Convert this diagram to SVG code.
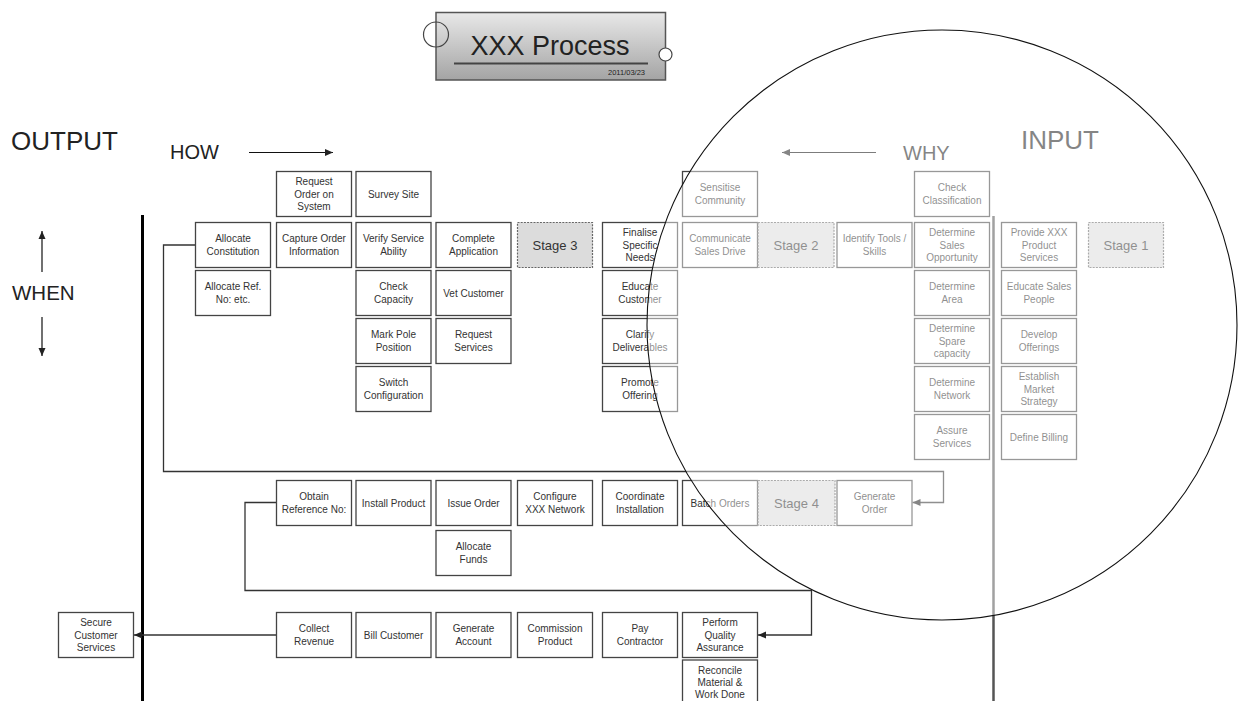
<svg xmlns="http://www.w3.org/2000/svg" width="1238" height="701" viewBox="0 0 1238 701">
<style>
.b{fill:#fff;stroke:#444;stroke-width:1.3}
.s{fill:#dcdcdc;stroke:#666;stroke-width:1.2;stroke-dasharray:2 1.2}
.t{font-family:"Liberation Sans",Arial,sans-serif;font-size:10px;fill:#333;text-anchor:middle}
.st{font-family:"Liberation Sans",Arial,sans-serif;font-size:13px;fill:#333;text-anchor:middle}
.lbl{font-family:"Liberation Sans",Arial,sans-serif;fill:#222}
.c{fill:none;stroke:#333;stroke-width:1.3}
.ax{fill:none;stroke:#111;stroke-width:1.2}
</style>
<defs>
<linearGradient id="tg" x1="0" y1="0" x2="0" y2="1">
<stop offset="0" stop-color="#e8e8e8"/>
<stop offset="1" stop-color="#a4a4a4"/>
</linearGradient>
<marker id="ah" markerUnits="userSpaceOnUse" markerWidth="8" markerHeight="8" refX="8" refY="4" orient="auto">
<path d="M0,0.5 L8,4 L0,7.5 z" fill="#222"/>
</marker>
</defs>

<g id="title">
<rect x="436" y="12.5" width="229.5" height="67.5" fill="url(#tg)" stroke="#555" stroke-width="1.5"/>
<circle cx="436" cy="34.5" r="12.5" fill="none" stroke="#444" stroke-width="1.2"/>
<circle cx="665.5" cy="54.5" r="6.5" fill="#fff" stroke="#444" stroke-width="1.2"/>
<text x="550" y="55" class="lbl" font-size="27" text-anchor="middle">XXX Process</text>
<line x1="454" y1="63.5" x2="648" y2="63.5" stroke="#444" stroke-width="2"/>
<text x="645" y="75" class="lbl" font-size="7.5" text-anchor="end" fill="#333">2011/03/23</text>
</g>

<g id="labels">
<text x="11" y="150" class="lbl" font-size="26">OUTPUT</text>
<text x="170" y="159" class="lbl" font-size="20">HOW</text>
<text x="12" y="300" class="lbl" font-size="20.5">WHEN</text>
<text x="903" y="160" class="lbl" font-size="20">WHY</text>
<text x="1021" y="149" class="lbl" font-size="26">INPUT</text>
<line x1="249" y1="152.5" x2="333" y2="152.5" class="ax" marker-end="url(#ah)"/>
<line x1="876" y1="152.5" x2="782" y2="152.5" class="ax" marker-end="url(#ah)"/>
<line x1="42" y1="272" x2="42" y2="231" class="ax" marker-end="url(#ah)"/>
<line x1="42" y1="317" x2="42" y2="356" class="ax" marker-end="url(#ah)"/>
</g>

<g id="swimlines">
<line x1="142.5" y1="215" x2="142.5" y2="701" stroke="#000" stroke-width="3"/>
<line x1="993.5" y1="216" x2="993.5" y2="701" stroke="#555" stroke-width="2.5"/>
</g>

<g id="connectors">
<path class="c" d="M195.5 245 H163.5 V471.5 H943.5 V502.5 H912.5" marker-end="url(#ah)"/>
<path class="c" d="M276.5 502.5 H245 V590.5 H811.5 V635 H758" marker-end="url(#ah)"/>
<path class="c" d="M276.5 635 H134" marker-end="url(#ah)"/>
</g>

<g id="n-request-order"><rect class="b" x="276.5" y="171.5" width="75" height="45"/><text class="t"><tspan x="314" y="185.2">Request</tspan><tspan x="314" y="197.5">Order on</tspan><tspan x="314" y="209.8">System</tspan></text></g>
<g id="n-survey-site"><rect class="b" x="356" y="171.5" width="75" height="45"/><text class="t" x="393.5" y="197.5">Survey Site</text></g>
<g id="n-sensitise"><rect class="b" x="682.5" y="171.5" width="75" height="45"/><text class="t"><tspan x="720" y="191.35">Sensitise</tspan><tspan x="720" y="203.65">Community</tspan></text></g>
<g id="n-check-class"><rect class="b" x="914.5" y="171.5" width="75" height="45"/><text class="t"><tspan x="952" y="191.35">Check</tspan><tspan x="952" y="203.65">Classification</tspan></text></g>

<g id="n-alloc-const"><rect class="b" x="195.5" y="222.5" width="75" height="45"/><text class="t"><tspan x="233" y="242.35">Allocate</tspan><tspan x="233" y="254.65">Constitution</tspan></text></g>
<g id="n-capture"><rect class="b" x="276.5" y="222.5" width="75" height="45"/><text class="t"><tspan x="314" y="242.35">Capture Order</tspan><tspan x="314" y="254.65">Information</tspan></text></g>
<g id="n-verify"><rect class="b" x="356" y="222.5" width="75" height="45"/><text class="t"><tspan x="393.5" y="242.35">Verify Service</tspan><tspan x="393.5" y="254.65">Ability</tspan></text></g>
<g id="n-complete"><rect class="b" x="436" y="222.5" width="75" height="45"/><text class="t"><tspan x="473.5" y="242.35">Complete</tspan><tspan x="473.5" y="254.65">Application</tspan></text></g>
<g id="n-stage3"><rect class="s" x="517.5" y="222.5" width="75" height="45"/><text class="st" x="555" y="249.5">Stage 3</text></g>
<g id="n-finalise"><rect class="b" x="602.5" y="222.5" width="75" height="45"/><text class="t"><tspan x="640" y="236.2">Finalise</tspan><tspan x="640" y="248.5">Specific</tspan><tspan x="640" y="260.8">Needs</tspan></text></g>
<g id="n-communicate"><rect class="b" x="682.5" y="222.5" width="75" height="45"/><text class="t"><tspan x="720" y="242.35">Communicate</tspan><tspan x="720" y="254.65">Sales Drive</tspan></text></g>
<g id="n-stage2"><rect class="s" x="758" y="222.5" width="76" height="45"/><text class="st" x="796" y="249.5">Stage 2</text></g>
<g id="n-identify"><rect class="b" x="837" y="222.5" width="75" height="45"/><text class="t"><tspan x="874.5" y="242.35">Identify Tools /</tspan><tspan x="874.5" y="254.65">Skills</tspan></text></g>
<g id="n-det-sales"><rect class="b" x="914.5" y="222.5" width="75" height="45"/><text class="t"><tspan x="952" y="236.2">Determine</tspan><tspan x="952" y="248.5">Sales</tspan><tspan x="952" y="260.8">Opportunity</tspan></text></g>
<g id="n-provide"><rect class="b" x="1001.5" y="222.5" width="75" height="45"/><text class="t"><tspan x="1039" y="236.2">Provide XXX</tspan><tspan x="1039" y="248.5">Product</tspan><tspan x="1039" y="260.8">Services</tspan></text></g>
<g id="n-stage1"><rect class="s" x="1088.5" y="222.5" width="75" height="45"/><text class="st" x="1126" y="249.5">Stage 1</text></g>

<g id="n-alloc-ref"><rect class="b" x="195.5" y="270.5" width="75" height="45"/><text class="t"><tspan x="233" y="290.35">Allocate Ref.</tspan><tspan x="233" y="302.65">No: etc.</tspan></text></g>
<g id="n-check-cap"><rect class="b" x="356" y="270.5" width="75" height="45"/><text class="t"><tspan x="393.5" y="290.35">Check</tspan><tspan x="393.5" y="302.65">Capacity</tspan></text></g>
<g id="n-vet"><rect class="b" x="436" y="270.5" width="75" height="45"/><text class="t" x="473.5" y="296.5">Vet Customer</text></g>
<g id="n-educate-cust"><rect class="b" x="602.5" y="270.5" width="75" height="45"/><text class="t"><tspan x="640" y="290.35">Educate</tspan><tspan x="640" y="302.65">Customer</tspan></text></g>
<g id="n-det-area"><rect class="b" x="914.5" y="270.5" width="75" height="45"/><text class="t"><tspan x="952" y="290.35">Determine</tspan><tspan x="952" y="302.65">Area</tspan></text></g>
<g id="n-educate-sales"><rect class="b" x="1001.5" y="270.5" width="75" height="45"/><text class="t"><tspan x="1039" y="290.35">Educate Sales</tspan><tspan x="1039" y="302.65">People</tspan></text></g>

<g id="n-mark-pole"><rect class="b" x="356" y="318.5" width="75" height="45"/><text class="t"><tspan x="393.5" y="338.35">Mark Pole</tspan><tspan x="393.5" y="350.65">Position</tspan></text></g>
<g id="n-req-services"><rect class="b" x="436" y="318.5" width="75" height="45"/><text class="t"><tspan x="473.5" y="338.35">Request</tspan><tspan x="473.5" y="350.65">Services</tspan></text></g>
<g id="n-clarify"><rect class="b" x="602.5" y="318.5" width="75" height="45"/><text class="t"><tspan x="640" y="338.35">Clarify</tspan><tspan x="640" y="350.65">Deliverables</tspan></text></g>
<g id="n-det-spare"><rect class="b" x="914.5" y="318.5" width="75" height="45"/><text class="t"><tspan x="952" y="332.2">Determine</tspan><tspan x="952" y="344.5">Spare</tspan><tspan x="952" y="356.8">capacity</tspan></text></g>
<g id="n-develop"><rect class="b" x="1001.5" y="318.5" width="75" height="45"/><text class="t"><tspan x="1039" y="338.35">Develop</tspan><tspan x="1039" y="350.65">Offerings</tspan></text></g>

<g id="n-switch"><rect class="b" x="356" y="366.5" width="75" height="45"/><text class="t"><tspan x="393.5" y="386.35">Switch</tspan><tspan x="393.5" y="398.65">Configuration</tspan></text></g>
<g id="n-promote"><rect class="b" x="602.5" y="366.5" width="75" height="45"/><text class="t"><tspan x="640" y="386.35">Promote</tspan><tspan x="640" y="398.65">Offering</tspan></text></g>
<g id="n-det-network"><rect class="b" x="914.5" y="366.5" width="75" height="45"/><text class="t"><tspan x="952" y="386.35">Determine</tspan><tspan x="952" y="398.65">Network</tspan></text></g>
<g id="n-establish"><rect class="b" x="1001.5" y="366.5" width="75" height="45"/><text class="t"><tspan x="1039" y="380.2">Establish</tspan><tspan x="1039" y="392.5">Market</tspan><tspan x="1039" y="404.8">Strategy</tspan></text></g>

<g id="n-assure"><rect class="b" x="914.5" y="414.5" width="75" height="45"/><text class="t"><tspan x="952" y="434.35">Assure</tspan><tspan x="952" y="446.65">Services</tspan></text></g>
<g id="n-billing"><rect class="b" x="1001.5" y="414.5" width="75" height="45"/><text class="t" x="1039" y="440.5">Define Billing</text></g>

<g id="n-obtain"><rect class="b" x="276.5" y="480.5" width="75" height="45"/><text class="t"><tspan x="314" y="500.35">Obtain</tspan><tspan x="314" y="512.65">Reference No:</tspan></text></g>
<g id="n-install"><rect class="b" x="356" y="480.5" width="75" height="45"/><text class="t" x="393.5" y="506.5">Install Product</text></g>
<g id="n-issue"><rect class="b" x="436" y="480.5" width="75" height="45"/><text class="t" x="473.5" y="506.5">Issue Order</text></g>
<g id="n-configure"><rect class="b" x="517.5" y="480.5" width="75" height="45"/><text class="t"><tspan x="555" y="500.35">Configure</tspan><tspan x="555" y="512.65">XXX Network</tspan></text></g>
<g id="n-coordinate"><rect class="b" x="602.5" y="480.5" width="75" height="45"/><text class="t"><tspan x="640" y="500.35">Coordinate</tspan><tspan x="640" y="512.65">Installation</tspan></text></g>
<g id="n-batch"><rect class="b" x="682.5" y="480.5" width="75" height="45"/><text class="t" x="720" y="506.5">Batch Orders</text></g>
<g id="n-stage4"><rect class="s" x="758" y="480.5" width="77" height="45"/><text class="st" x="796.5" y="507.5">Stage 4</text></g>
<g id="n-generate-order"><rect class="b" x="837" y="480.5" width="75" height="45"/><text class="t"><tspan x="874.5" y="500.35">Generate</tspan><tspan x="874.5" y="512.65">Order</tspan></text></g>
<g id="n-alloc-funds"><rect class="b" x="436" y="530.5" width="75" height="45"/><text class="t"><tspan x="473.5" y="550.35">Allocate</tspan><tspan x="473.5" y="562.65">Funds</tspan></text></g>

<g id="n-secure"><rect class="b" x="58.5" y="612.5" width="75" height="45"/><text class="t"><tspan x="96" y="626.2">Secure</tspan><tspan x="96" y="638.5">Customer</tspan><tspan x="96" y="650.8">Services</tspan></text></g>
<g id="n-collect"><rect class="b" x="276.5" y="612.5" width="75" height="45"/><text class="t"><tspan x="314" y="632.35">Collect</tspan><tspan x="314" y="644.65">Revenue</tspan></text></g>
<g id="n-bill"><rect class="b" x="356" y="612.5" width="75" height="45"/><text class="t" x="393.5" y="638.5">Bill Customer</text></g>
<g id="n-gen-account"><rect class="b" x="436" y="612.5" width="75" height="45"/><text class="t"><tspan x="473.5" y="632.35">Generate</tspan><tspan x="473.5" y="644.65">Account</tspan></text></g>
<g id="n-commission"><rect class="b" x="517.5" y="612.5" width="75" height="45"/><text class="t"><tspan x="555" y="632.35">Commission</tspan><tspan x="555" y="644.65">Product</tspan></text></g>
<g id="n-pay"><rect class="b" x="602.5" y="612.5" width="75" height="45"/><text class="t"><tspan x="640" y="632.35">Pay</tspan><tspan x="640" y="644.65">Contractor</tspan></text></g>
<g id="n-perform"><rect class="b" x="682.5" y="612.5" width="75" height="45"/><text class="t"><tspan x="720" y="626.2">Perform</tspan><tspan x="720" y="638.5">Quality</tspan><tspan x="720" y="650.8">Assurance</tspan></text></g>
<g id="n-reconcile"><rect class="b" x="682.5" y="660" width="75" height="45"/><text class="t"><tspan x="720" y="673.7">Reconcile</tspan><tspan x="720" y="686">Material &amp;</tspan><tspan x="720" y="698.3">Work Done</tspan></text></g>

<circle id="focus-circle" cx="942" cy="325" r="295" fill="#fff" fill-opacity="0.45" stroke="#111" stroke-width="1.1"/>
</svg>
